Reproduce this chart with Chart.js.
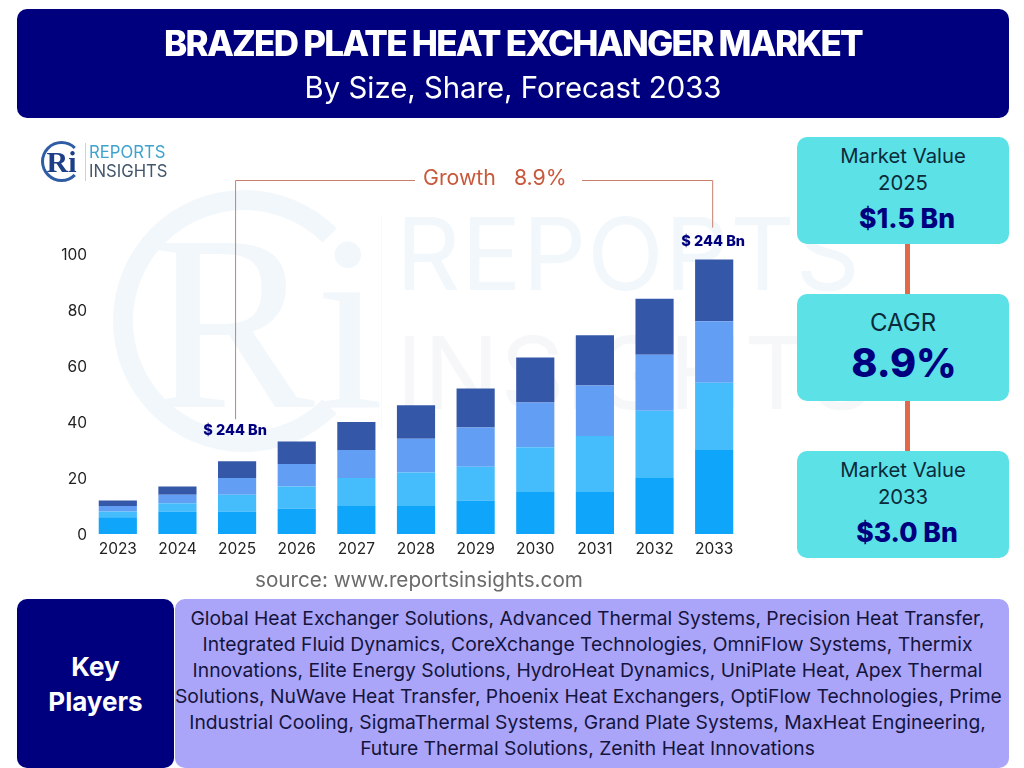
<!DOCTYPE html>
<html>
<head>
<meta charset="utf-8">
<title>Brazed Plate Heat Exchanger Market</title>
<script src="https://cdn.jsdelivr.net/npm/chart.js@4"></script>
<style>
  html, body { margin: 0; padding: 0; background: #fff; }
  body { width: 1024px; height: 768px; position: relative; overflow: hidden; font-family: Inter, "Noto Sans", sans-serif; }
  .abs { position: absolute; box-sizing: border-box; }
  #head { left: 17px; top: 9px; width: 992px; height: 109px; background: #00007f; border-radius: 10px; color: #fff; text-align: center; }
  #head h1 { margin: 0; position: absolute; left: 0; right: 0; top: 11px; font-size: 35px; line-height: 46px; font-weight: 800; letter-spacing: -1.75px; }
  #head p { margin: 0; position: absolute; left: 0; right: 0; top: 59px; font-size: 29.3px; line-height: 40px; font-weight: 400; }
  #wrap { left: 0; top: 0; width: 780px; height: 575px; }
  .box { left: 797px; width: 212px; height: 107px; background: #5ce1e6; border-radius: 10px; text-align: center; color: #0b2a3a; font-size: 20.3px; }
  .box span, .box b { position: absolute; left: 0; right: 0; }
  .box b { color: #00007f; font-weight: 800; }
  .link { left: 905px; width: 5px; background: #e0694a; }
  .mark { color: #f2f7fb; font-weight: 400; white-space: nowrap; }
  #src { left: 255px; top: 566px; color: #6b6b6b; font-size: 20.7px; line-height: 28px; }
  #kp { left: 17px; top: 599px; width: 157px; height: 169px; background: #00007f; border-radius: 10px; color: #fff; text-align: center; font-size: 26px; font-weight: 700; line-height: 35px; padding-top: 50px; }
  #names { left: 175px; top: 599px; width: 834px; height: 169px; background: #aba5fa; border-radius: 10px; color: #14143c; text-align: center; font-size: 19.3px; line-height: 26px; padding: 6px 9px 0 0; white-space: nowrap; }
</style>
</head>
<body>
<div class="abs mark" style="left:396px;top:209px;font-size:100px;line-height:90px;letter-spacing:1px;">REPORTS</div>
<div class="abs mark" style="left:396px;top:328px;font-size:100px;line-height:90px;letter-spacing:1px;color:#f6f7f9;">INSIGHTS</div>
<div class="abs" style="left:381px;top:215px;width:1px;height:215px;background:#f7f9fb;"></div>
<div class="abs" style="left:113px;top:190px;width:262px;height:262px;border-radius:50%;border:20px solid #f2f7fb;border-right-color:transparent;"></div>
<div class="abs mark" style="left:148px;top:193px;font-size:250px;line-height:260px;font-family:'Liberation Serif',serif;">Ri</div>

<div id="wrap" class="abs"><canvas id="myChart"></canvas></div>

<div id="head" class="abs">
  <h1>BRAZED PLATE HEAT EXCHANGER MARKET</h1>
  <p>By Size, Share, Forecast 2033</p>
</div>

<!-- logo -->
<div class="abs" style="left:41px;top:141px;width:41px;height:41px;border-radius:50%;border:3px solid #2f5da5;border-right-color:#fff;color:#1d3f86;font:700 30px/36px 'Liberation Serif',serif;text-align:center;">Ri</div>
<div class="abs" style="left:85px;top:143px;height:38px;border-left:1px solid #c9d3dc;padding-left:3px;font-size:16.7px;line-height:19px;">
  <div style="color:#3fa3cf;">REPORTS</div><div style="color:#44566c;">INSIGHTS</div>
</div>

<div class="abs link" style="top:244px;height:50px;"></div>
<div class="abs link" style="top:401px;height:50px;"></div>
<div class="abs box" style="top:137px;">
  <span style="top:6px;">Market Value</span><span style="top:33px;">2025</span>
  <b style="top:65px;left:8px;font-size:26.5px;">$1.5 Bn</b>
</div>
<div class="abs box" style="top:294px;">
  <span style="top:14px;font-size:24px;">CAGR</span>
  <b style="top:45px;left:2px;font-size:39.5px;">8.9%</b>
</div>
<div class="abs box" style="top:451px;">
  <span style="top:6px;">Market Value</span><span style="top:33px;">2033</span>
  <b style="top:65px;left:8px;font-size:26.5px;">$3.0 Bn</b>
</div>

<div id="src" class="abs">source: www.reportsinsights.com</div>

<div id="kp" class="abs">Key<br>Players</div>
<div id="names" class="abs">
Global Heat Exchanger Solutions, Advanced Thermal Systems, Precision Heat Transfer,<br>
Integrated Fluid Dynamics, CoreXchange Technologies, OmniFlow Systems, Thermix<br>
Innovations, Elite Energy Solutions, HydroHeat Dynamics, UniPlate Heat, Apex Thermal<br>
Solutions, NuWave Heat Transfer, Phoenix Heat Exchangers, OptiFlow Technologies, Prime<br>
Industrial Cooling, SigmaThermal Systems, Grand Plate Systems, MaxHeat Engineering,<br>
Future Thermal Solutions, Zenith Heat Innovations
</div>

<script>
"use strict";

const years = ["2023", "2024", "2025", "2026", "2027", "2028", "2029", "2030", "2031", "2032", "2033"];
const seriesA = [6, 8, 8, 9, 10, 10, 12, 15, 15, 20, 30];
const seriesB = [2, 3, 6, 8, 10, 12, 12, 16, 20, 24, 24];
const seriesC = [2, 3, 6, 8, 10, 12, 14, 16, 18, 20, 22];
const seriesD = [2, 3, 6, 8, 10, 12, 14, 16, 18, 20, 22];
const yTicks = [0, 20, 40, 60, 80, 100];
const calloutText = "$ 244 Bn";
const growthText = "Growth   8.9%";

// Linea de crecimiento y etiquetas sobre las barras 2025 y 2033
const growthCallout = {
  id: "growthCallout",
  afterDatasetsDraw(chart) {
    const ctx = chart.ctx;
    const x = chart.scales.x;
    const y = chart.scales.y;
    const total = (i) => seriesA[i] + seriesB[i] + seriesC[i] + seriesD[i];
    const first = years.indexOf("2025");
    const last = years.indexOf("2033");
    const x1 = x.getPixelForValue(first) - 2;
    const x2 = x.getPixelForValue(last) - 2;
    const lineY = 180;

    ctx.save();
    ctx.strokeStyle = "#c8806c";
    ctx.lineWidth = 1;
    ctx.beginPath();
    ctx.moveTo(x1 + 0.5, y.getPixelForValue(total(first)) - 42);
    ctx.lineTo(x1 + 0.5, lineY + 0.5);
    ctx.lineTo(415, lineY + 0.5);
    ctx.moveTo(582, lineY + 0.5);
    ctx.lineTo(x2 + 0.5, lineY + 0.5);
    ctx.lineTo(x2 + 0.5, y.getPixelForValue(total(last)) - 32);
    ctx.stroke();

    ctx.fillStyle = "#c8593c";
    ctx.font = "21.3px Inter";
    ctx.textAlign = "left";
    ctx.textBaseline = "middle";
    ctx.fillText(growthText, 423, lineY - 1);

    ctx.fillStyle = "#00007f";
    ctx.font = "800 14.5px Inter";
    ctx.textAlign = "center";
    ctx.fillText(calloutText, x1, y.getPixelForValue(total(first)) - 31);
    ctx.fillText(calloutText, x2 + 1, y.getPixelForValue(total(last)) - 18);
    ctx.restore();
  },
};

function bar(label, values, color) {
  return {
    label: label,
    data: values,
    backgroundColor: color,
    borderWidth: 0,
    categoryPercentage: 0.8,
    barPercentage: 0.8,
  };
}

const myChart = new Chart(document.querySelector("#myChart"), {
  type: "bar",
  data: {
    labels: years,
    datasets: [
      bar("A", seriesA, "#0ea5fa"),
      bar("B", seriesB, "#45bdfd"),
      bar("C", seriesC, "#639ef5"),
      bar("D", seriesD, "#3557a8"),
    ],
  },
  options: {
    responsive: true,
    maintainAspectRatio: false,
    animation: false,
    layout: { padding: { top: 254, left: 0, right: 36, bottom: 0 } },
    plugins: { legend: { display: false }, tooltip: { enabled: false } },
    scales: {
      x: {
        stacked: true,
        grid: { display: false, drawTicks: false },
        border: { display: false },
        ticks: { color: "#222", font: { family: "Inter", size: 15.5 }, padding: 6, maxRotation: 0 },
        afterFit(scale) { scale.height = 41; },
      },
      y: {
        stacked: true,
        min: 0,
        max: 100,
        afterBuildTicks(scale) { scale.ticks = yTicks.map((v) => ({ value: v })); },
        grid: { display: false, drawTicks: false },
        border: { display: false },
        ticks: { color: "#222", font: { family: "Inter", size: 15.5 }, padding: 1, labelOffset: 1 },
        afterFit(scale) { scale.width = 88; },
      },
    },
  },
  plugins: [growthCallout],
});
</script>
</body>
</html>
